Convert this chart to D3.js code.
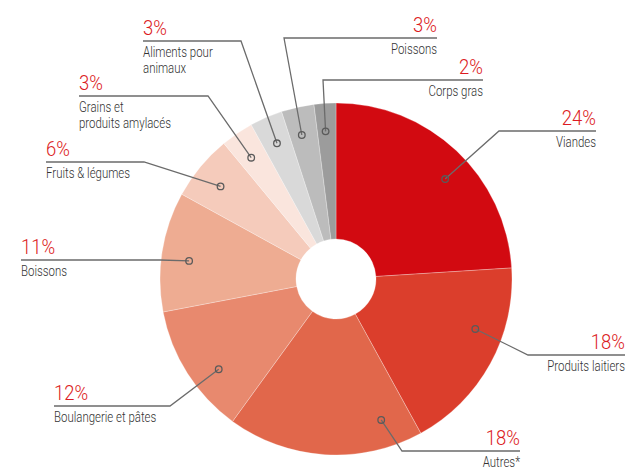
<!DOCTYPE html>
<html lang="fr">
<head>
<meta charset="UTF-8">
<title>Répartition</title>
<script src="https://cdn.jsdelivr.net/npm/d3@7"></script>
<style>
  body { margin: 0; background: #fff; }
  text { font-family: "Roboto", "Liberation Sans", sans-serif; font-weight: 300; }
</style>
</head>
<body>
<svg width="626" height="468" id="mainsvg"></svg>
<script>
  // data, clockwise from 12 o'clock
  const categories = ['Viandes', 'Produits laitiers', 'Autres*', 'Boulangerie et pâtes', 'Boissons',
    'Fruits & légumes', 'Grains et|produits amylacés', 'Aliments pour|animaux', 'Poissons', 'Corps gras']
  const values = [24, 18, 18, 12, 11, 6, 3, 3, 3, 2]
  const colors = ['#d20a11', '#db3e2c', '#e1674b', '#e8896e', '#eeac92',
    '#f5cbbb', '#fae5dd', '#d9d9d9', '#bcbcbc', '#9c9c9c']

  // label placement (annotation layout, not data)
  const labelLayout = [
    { side: 'right', lineY: 131, x0: 499, x1: 596, dotAt: 0.55 },
    { side: 'right', lineY: 355, x0: 528, x1: 625, dotAt: 0.36 },
    { side: 'right', lineY: 451, x0: 402, x1: 520, dotAt: 0.17 },
    { side: 'left', lineY: 406, x0: 54, x1: 170, dotAt: 0.38 },
    { side: 'left', lineY: 260, x0: 21, x1: 160, dotAt: 0.45 },
    { side: 'left', lineY: 162, x0: 46, x1: 144, dotAt: 0.46 },
    { side: 'left', lineY: 96, x0: 79, x1: 208, dotAt: 0.43 },
    { side: 'left', lineY: 41, x0: 143, x1: 241, dotAt: 0.49 },
    { side: 'right', lineY: 38, x0: 284, x1: 437, dotAt: 0.43 },
    { side: 'right', lineY: 80, x0: 323, x1: 483, dotAt: 0.44 }
  ]

  const svg = d3.select('#mainsvg')
  const cx = 336, cy = 279
  const outerR = 176, innerR = 40, dotR = 148

  const pie = d3.pie().sort(null).value(d => d)
  const arcs = pie(values)
  const arc = d3.arc().innerRadius(innerR).outerRadius(outerR)

  const g = svg.append('g').attr('transform', `translate(${cx},${cy})`)

  g.selectAll('.slice').data(arcs).enter().append('path')
    .attr('class', 'slice')
    .attr('d', arc)
    .attr('fill', (d, i) => colors[i])
    .attr('stroke', '#ffffff')
    .attr('stroke-opacity', 0.35)
    .attr('stroke-width', 0.8)

  const dotPos = (d, i) => {
    const a = d.startAngle + (d.endAngle - d.startAngle) * labelLayout[i].dotAt
    return [cx + dotR * Math.sin(a), cy - dotR * Math.cos(a)]
  }

  const labels = svg.append('g')

  // condensed look: squeeze text horizontally
  const squeezed = (x, y, sx) => labels.append('g')
    .attr('transform', `translate(${x},${y}) scale(${sx},1)`)

  arcs.forEach((d, i) => {
    const L = labelLayout[i]
    const [px, py] = dotPos(d, i)
    const elbowX = L.side === 'left' ? L.x1 : L.x0
    const farX = L.side === 'left' ? L.x0 : L.x1

    labels.append('path')
      .attr('d', `M${px},${py}L${elbowX},${L.lineY}L${farX},${L.lineY}`)
      .attr('fill', 'none')
      .attr('stroke', '#6b6b6b')
      .attr('stroke-width', 1.3)

    labels.append('circle')
      .attr('cx', px).attr('cy', py).attr('r', 3.3)
      .attr('fill', 'none')
      .attr('stroke', '#5a5a5a')
      .attr('stroke-width', 1.3)

    const anchor = L.side === 'left' ? 'start' : 'end'
    squeezed(farX, L.lineY - 6, 0.88).append('text')
      .attr('text-anchor', anchor)
      .attr('fill', '#dc1a22')
      .attr('font-size', 21)
      .text(values[i] + '%')

    const lines = categories[i].split('|')
    lines.forEach((t, k) => {
      squeezed(farX, L.lineY + 16 + k * 15.5, 0.8).append('text')
        .attr('text-anchor', anchor)
        .attr('fill', '#333')
        .attr('font-size', 14.3)
        .attr('font-weight', 400)
        .text(t)
    })
  })
</script>
</body>
</html>
